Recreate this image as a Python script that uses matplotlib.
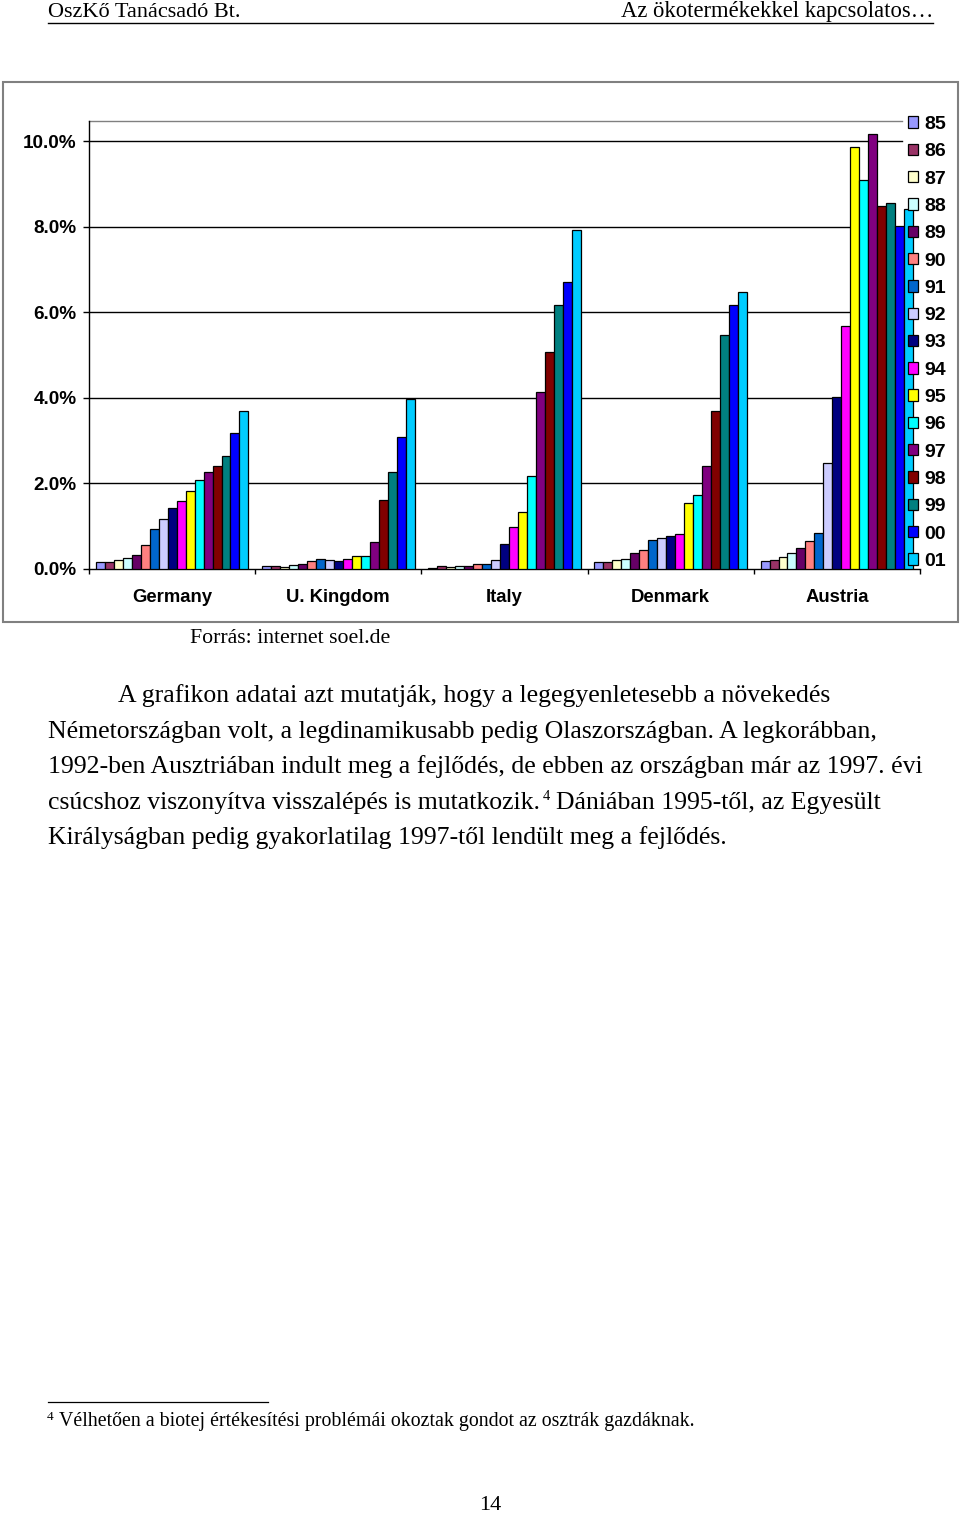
import numpy as np
import matplotlib
matplotlib.use("Agg")
import matplotlib.pyplot as plt
from matplotlib.patches import Rectangle
from matplotlib.lines import Line2D

# ---------------- data ----------------
countries = ["Germany", "U. Kingdom", "Italy", "Denmark", "Austria"]
years = ["85", "86", "87", "88", "89", "90", "91", "92", "93", "94",
         "95", "96", "97", "98", "99", "00", "01"]
germany = [0.15, 0.15, 0.19, 0.25, 0.31, 0.54, 0.93, 1.17, 1.42, 1.57,
           1.81, 2.07, 2.25, 2.41, 2.64, 3.17, 3.69]
uk = [0.05, 0.05, 0.04, 0.09, 0.11, 0.17, 0.22, 0.21, 0.17, 0.22,
      0.29, 0.29, 0.62, 1.61, 2.25, 3.07, 3.98]
italy = [0.02, 0.05, 0.04, 0.07, 0.07, 0.10, 0.10, 0.20, 0.58, 0.98,
         1.32, 2.16, 4.13, 5.08, 6.16, 6.71, 7.93]
denmark = [0.16, 0.16, 0.20, 0.23, 0.36, 0.44, 0.67, 0.71, 0.75, 0.80,
           1.53, 1.71, 2.39, 3.70, 5.47, 6.16, 6.47]
austria = [0.17, 0.21, 0.26, 0.36, 0.49, 0.65, 0.83, 2.47, 4.02, 5.67,
           9.88, 9.10, 10.17, 8.48, 8.56, 8.01, 8.42]
yticks = [0, 2, 4, 6, 8, 10]
colors = ["#9999FF", "#993366", "#FFFFCC", "#CCFFFF", "#660066", "#FF8080",
          "#0066CC", "#CCCCFF", "#000080", "#FF00FF", "#FFFF00", "#00FFFF",
          "#800080", "#800000", "#008080", "#0000FF", "#00CCFF"]

values = np.array([germany, uk, italy, denmark, austria])  # (country, year)

SANS = ["Liberation Sans", "DejaVu Sans"]
SERIF = ["Liberation Serif", "DejaVu Serif"]

W, H = 960, 1515
fig = plt.figure(figsize=(W / 100, H / 100), dpi=100)
fig.patch.set_facecolor("white")


def fx(x):
    return x / W


def fy(y):
    return 1 - y / H


# ---------------- page header ----------------
fig.text(fx(48), fy(17), "OszKő Tanácsadó Bt.", family=SERIF, fontsize=16,
         va="baseline", ha="left")
fig.text(fx(933), fy(17), "Az ökotermékekkel kapcsolatos…", family=SERIF,
         fontsize=16.3, va="baseline", ha="right")
fig.add_artist(Line2D([fx(48), fx(933)], [fy(23), fy(23)], color="black",
                      lw=1.0, transform=fig.transFigure))

# ---------------- chart frame ----------------
fig.add_artist(Rectangle((fx(3), fy(622)), fx(958) - fx(3), fy(82) - fy(622),
                         transform=fig.transFigure, facecolor="white",
                         edgecolor="#808080", lw=1.5, zorder=0))

# ---------------- chart axes ----------------
ax_l, ax_r, ax_b, ax_t = 89, 920, 568.5, 121
ax = fig.add_axes([fx(ax_l), fy(ax_b), fx(ax_r) - fx(ax_l), fy(ax_t) - fy(ax_b)])
ax.set_facecolor("none")
ymax = 10.48
ax.set_xlim(0, len(countries))
ax.set_ylim(0, ymax)

n = len(years)
bw = 1 / (n + 1.5)
xc = np.arange(len(countries)) + 0.5
handles = []
for j, yr in enumerate(years):
    b = ax.bar(xc + (j - (n - 1) / 2) * bw, values[:, j], width=bw,
               color=colors[j], edgecolor="black", linewidth=0.9, zorder=3,
               label=yr)
    handles.append(b)

grid_frac = (902 - ax_l) / (ax_r - ax_l)
for t in yticks[1:]:
    ax.axhline(t, xmin=0, xmax=grid_frac, color="black", lw=1.0, zorder=1)
ax.axhline(ymax, xmin=0, xmax=grid_frac, color="#808080", lw=1.0, zorder=1,
           clip_on=False)

for s in ["top", "right"]:
    ax.spines[s].set_visible(False)
ax.spines["left"].set_color("black")
ax.spines["bottom"].set_color("black")
ax.spines["left"].set_linewidth(1.0)
ax.spines["bottom"].set_linewidth(1.0)

ax.set_yticks(yticks)
ax.set_yticklabels([f"{v:.1f}%" for v in yticks])
ax.tick_params(axis="y", direction="out", length=4.3, width=1.0, pad=4.5,
               labelsize=13.6)
ax.set_xticks(np.arange(len(countries) + 1))
ax.set_xticklabels([])
ax.set_xticks(xc, minor=True)
ax.set_xticklabels(countries, minor=True)
ax.tick_params(axis="x", which="major", direction="out", length=3.6, width=1.0)
ax.tick_params(axis="x", which="minor", length=0, pad=14.5, labelsize=13.3)
for lab in ax.get_yticklabels() + ax.get_xticklabels(minor=True):
    lab.set_family(SANS)
    lab.set_fontweight("bold")

leg = fig.legend(handles, years, loc="upper left",
                 bbox_to_anchor=(fx(908), fy(116)), frameon=False,
                 prop={"family": SANS, "weight": "bold", "size": 14},
                 handlelength=0.52, handleheight=0.52, handletextpad=0.33,
                 labelspacing=0.53, borderpad=0, borderaxespad=0)

# ---------------- body text ----------------
fig.text(fx(190), fy(643), "Forrás: internet soel.de", family=SERIF,
         fontsize=15.7, va="baseline", ha="left")

body_size = 18.5
fig.text(fx(118), fy(702), "A grafikon adatai azt mutatják, hogy a legegyenletesebb a növekedés",
         family=SERIF, fontsize=body_size, va="baseline")
fig.text(fx(48), fy(737.5), "Németországban volt, a legdinamikusabb pedig Olaszországban. A legkorábban,",
         family=SERIF, fontsize=body_size, va="baseline")
fig.text(fx(48), fy(773), "1992-ben Ausztriában indult meg a fejlődés, de ebben az országban már az 1997. évi",
         family=SERIF, fontsize=body_size, va="baseline")
t4a = fig.text(fx(48), fy(808.5), "csúcshoz viszonyítva visszalépés is mutatkozik.",
               family=SERIF, fontsize=body_size, va="baseline")
fig.text(fx(48), fy(844), "Királyságban pedig gyakorlatilag 1997-től lendült meg a fejlődés.",
         family=SERIF, fontsize=body_size, va="baseline")

renderer = fig.canvas.get_renderer()
ext = t4a.get_window_extent(renderer)
x_end = ext.x1
fig.text(x_end / W + fx(3), fy(800), "4", family=SERIF, fontsize=10.5,
         va="baseline")
fig.text(x_end / W + fx(16), fy(808.5), "Dániában 1995-től, az Egyesült",
         family=SERIF, fontsize=body_size, va="baseline")

# ---------------- footnote ----------------
fig.add_artist(Line2D([fx(48), fx(268)], [fy(1402), fy(1402)], color="black",
                      lw=0.9, transform=fig.transFigure))
fig.text(fx(47), fy(1420), "4", family=SERIF, fontsize=9.5, va="baseline")
fig.text(fx(59), fy(1426), "Vélhetően a biotej értékesítési problémái okoztak gondot az osztrák gazdáknak.",
         family=SERIF, fontsize=14.3, va="baseline")

fig.text(fx(490), fy(1510), "14", family=SERIF, fontsize=16, va="baseline",
         ha="center")

fig.savefig("out.png", dpi=100, facecolor="white")
